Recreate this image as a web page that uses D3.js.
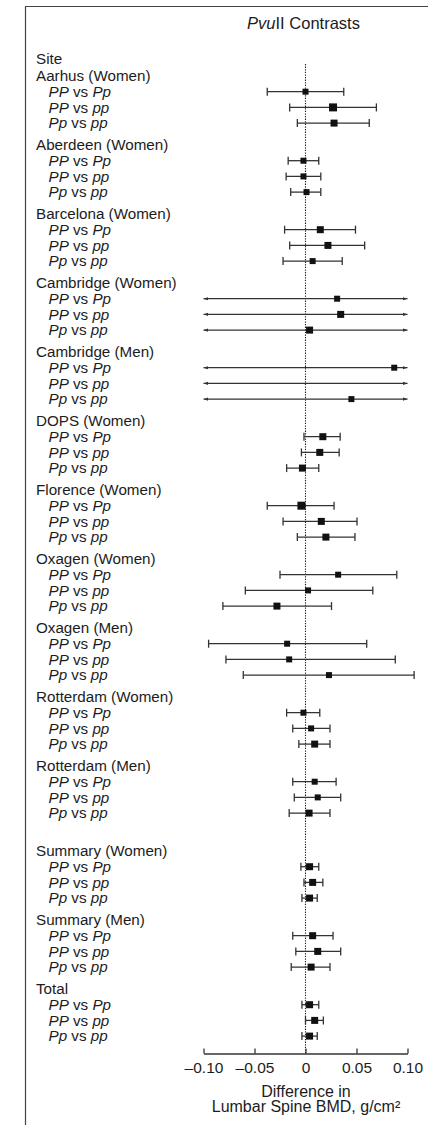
<!DOCTYPE html>
<html>
<head>
<meta charset="utf-8">
<script src="https://cdn.jsdelivr.net/npm/d3@7"></script>
<style>
  body { margin: 0; background: #fff; }
  svg { display: block; font-family: "Liberation Sans", Arial, Helvetica, sans-serif; }
</style>
</head>
<body>
<div class="canvas"></div>
<script>
const svgWidth = 428;
const svgHeight = 1125;

// groups (sites) and the three genotype contrasts
const sites = [
  "Aarhus (Women)", "Aberdeen (Women)", "Barcelona (Women)", "Cambridge (Women)",
  "Cambridge (Men)", "DOPS (Women)", "Florence (Women)", "Oxagen (Women)",
  "Oxagen (Men)", "Rotterdam (Women)", "Rotterdam (Men)",
  "Summary (Women)", "Summary (Men)", "Total"
];
const contrasts = [["PP", "Pp"], ["PP", "pp"], ["Pp", "pp"]];

// point estimates, g/cm2 (null = no point shown)
const estimates = [
  [0.000, 0.027, 0.028],
  [-0.002, -0.002, 0.001],
  [0.0145, 0.022, 0.007],
  [0.031, 0.0345, 0.004],
  [0.087, null, 0.045],
  [0.017, 0.014, -0.003],
  [-0.004, 0.0155, 0.020],
  [0.032, 0.0025, -0.028],
  [-0.018, -0.016, 0.023],
  [-0.002, 0.0055, 0.009],
  [0.009, 0.012, 0.0035],
  [0.004, 0.007, 0.004],
  [0.007, 0.012, 0.0055],
  [0.004, 0.009, 0.004]
];
// confidence limits (null = interval runs off the plot, drawn with arrows)
const lower = [
  [-0.0375, -0.0155, -0.008],
  [-0.017, -0.019, -0.0145],
  [-0.0205, -0.0155, -0.022],
  [null, null, null],
  [null, null, null],
  [-0.0015, -0.004, -0.0185],
  [-0.0375, -0.022, -0.008],
  [-0.025, -0.059, -0.081],
  [-0.095, -0.078, -0.061],
  [-0.0185, -0.0125, -0.0065],
  [-0.0125, -0.011, -0.016],
  [-0.0045, -0.0015, -0.0035],
  [-0.0125, -0.0095, -0.014],
  [-0.0035, 0.000, -0.0035]
];
const upper = [
  [0.0375, 0.0695, 0.0625],
  [0.013, 0.015, 0.015],
  [0.049, 0.058, 0.036],
  [null, null, null],
  [null, null, null],
  [0.034, 0.033, 0.013],
  [0.028, 0.0505, 0.0485],
  [0.0895, 0.066, 0.0255],
  [0.060, 0.088, 0.1065],
  [0.014, 0.024, 0.024],
  [0.030, 0.0345, 0.024],
  [0.013, 0.017, 0.0115],
  [0.027, 0.0345, 0.024],
  [0.013, 0.0175, 0.0115]
];
// relative study weight (marker size)
const weights = [
  [6, 8, 7], [6, 6, 6], [7, 7, 6], [6, 7, 7], [6, 0, 6], [7, 7, 7], [8, 7, 7],
  [6, 6, 7], [6, 6, 6], [6, 6, 7], [6, 6, 7], [7, 7, 7], [7, 7, 7], [7, 7, 7]
];

const tickValues = [-0.10, -0.05, 0, 0.05, 0.10];
const axisTitle = ["Difference in", "Lumbar Spine BMD, g/cm\u00b2"];

const ink = "#1c1c1c";

const svg = d3.select('.canvas')
  .append('svg')
    .attr('width', svgWidth)
    .attr('height', svgHeight);

// frame (left + top rule)
svg.append('path')
  .attr('d', `M25.5,${svgHeight} V6.5 H${svgWidth}`)
  .attr('fill', 'none')
  .attr('stroke', '#444')
  .attr('stroke-width', 1.2);

const x = d3.scaleLinear().domain([-0.10, 0.10]).range([203.5, 407.5]);

// vertical layout: one group = header + 3 rows
const groupStep = 69, rowStep = 15.7, headerGap = 16, summaryGap = 16;
const firstRow = 91.7;
const groupY = g => firstRow + g * groupStep + (g >= 11 ? summaryGap : 0);
const rowY = (g, r) => groupY(g) + r * rowStep;

const axisY = 1053.5;

// title
const title = svg.append('text')
  .attr('x', 303.5)
  .attr('y', 23.5)
  .attr('dy', '0.35em')
  .attr('text-anchor', 'middle')
  .attr('font-size', 16.5)
  .attr('fill', ink);
title.append('tspan').attr('font-style', 'italic').text('Pvu');
title.append('tspan').text('II Contrasts');

svg.append('text')
  .attr('x', 36)
  .attr('y', 59)
  .attr('dy', '0.35em')
  .attr('font-size', 15.2)
  .attr('fill', ink)
  .text('Site');

// zero reference line
svg.append('line')
  .attr('x1', x(0)).attr('x2', x(0))
  .attr('y1', 64).attr('y2', axisY)
  .attr('stroke', ink)
  .attr('stroke-width', 1.1)
  .attr('stroke-dasharray', '1.3,1.3');

// arrow marker for open-ended intervals
const defs = svg.append('defs');
defs.append('marker')
  .attr('id', 'arrow')
  .attr('viewBox', '0 0 10 10')
  .attr('refX', 10).attr('refY', 5)
  .attr('markerWidth', 4.5).attr('markerHeight', 4.5)
  .attr('markerUnits', 'userSpaceOnUse')
  .attr('orient', 'auto-start-reverse')
  .append('path')
    .attr('d', 'M0,1.5 L10,5 L0,8.5 Z')
    .attr('fill', '#333');

// flat row list
const rows = [];
sites.forEach((site, g) => {
  contrasts.forEach((c, r) => {
    rows.push({
      g, r, pair: c,
      est: estimates[g][r], lo: lower[g][r], hi: upper[g][r],
      w: weights[g][r], y: rowY(g, r)
    });
  });
});

// group headers
svg.selectAll('text.site')
  .data(sites)
  .enter()
  .append('text')
    .attr('class', 'site')
    .attr('x', 36)
    .attr('y', (d, g) => groupY(g) - headerGap)
    .attr('dy', '0.35em')
    .attr('font-size', 15.2)
    .attr('fill', ink)
    .text(d => d);

// contrast labels
const labels = svg.selectAll('text.contrast')
  .data(rows)
  .enter()
  .append('text')
    .attr('class', 'contrast')
    .attr('x', 48.5)
    .attr('y', d => d.y)
    .attr('dy', '0.35em')
    .attr('font-size', 15.2)
    .attr('fill', ink);
labels.append('tspan').attr('font-style', 'italic').text(d => d.pair[0]);
labels.append('tspan').text(' vs ');
labels.append('tspan').attr('font-style', 'italic').text(d => d.pair[1]);

// interval lines
const bars = svg.append('g');
rows.forEach(d => {
  const open = d.lo === null;
  const x1 = open ? x(-0.10) : x(d.lo);
  const x2 = open ? x(0.10) : x(d.hi);
  const line = bars.append('line')
    .attr('x1', x1).attr('x2', x2)
    .attr('y1', d.y).attr('y2', d.y)
    .attr('stroke', '#333')
    .attr('stroke-width', 1.3);
  if (open) {
    line.attr('marker-start', 'url(#arrow)').attr('marker-end', 'url(#arrow)');
  } else {
    [x1, x2].forEach(cx => {
      bars.append('line')
        .attr('x1', cx).attr('x2', cx)
        .attr('y1', d.y - 4).attr('y2', d.y + 4)
        .attr('stroke', '#333')
        .attr('stroke-width', 1.3);
    });
  }
});

// point estimates
svg.selectAll('rect.pt')
  .data(rows.filter(d => d.est !== null))
  .enter()
  .append('rect')
    .attr('class', 'pt')
    .attr('x', d => x(d.est) - d.w / 2)
    .attr('y', d => d.y - d.w / 2)
    .attr('width', d => d.w)
    .attr('height', d => d.w)
    .attr('fill', '#111');

// x axis, ticks pointing up
const xAxis = d3.axisBottom(x)
  .tickValues(tickValues)
  .tickSizeInner(-5)
  .tickSizeOuter(0)
  .tickPadding(8)
  .tickFormat(d => d === 0 ? '0' : d3.format('.2f')(d).replace('\u2212', '\u2013'));

const xAxisGroup = svg.append('g')
  .attr('transform', `translate(0,${axisY})`)
  .call(xAxis);
xAxisGroup.select('.domain').attr('stroke', '#333').attr('stroke-width', 1.3);
xAxisGroup.selectAll('.tick line').attr('stroke', '#333').attr('stroke-width', 1.3);
xAxisGroup.selectAll('text')
  .attr('font-size', 15.5)
  .attr('font-family', '"Liberation Sans", Arial, sans-serif')
  .attr('fill', ink);

svg.selectAll('text.axis-title')
  .data(axisTitle)
  .enter()
  .append('text')
    .attr('class', 'axis-title')
    .attr('x', 306)
    .attr('y', (d, i) => 1091 + i * 15.5)
    .attr('dy', '0.35em')
    .attr('text-anchor', 'middle')
    .attr('font-size', 16)
    .attr('fill', ink)
    .text(d => d);
</script>
</body>
</html>
